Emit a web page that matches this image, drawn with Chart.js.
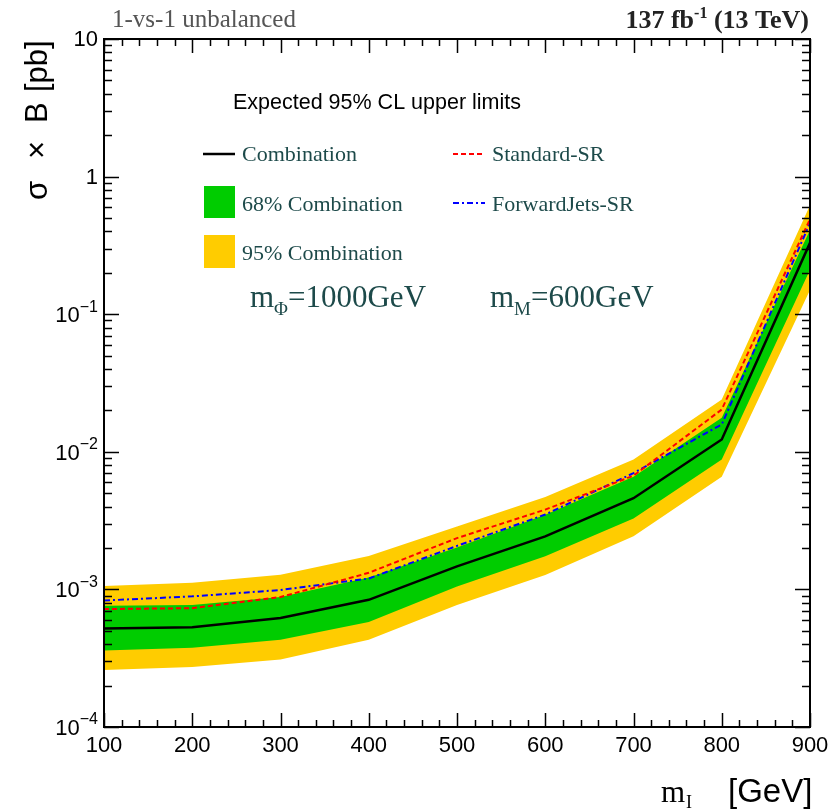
<!DOCTYPE html>
<html>
<head>
<meta charset="utf-8">
<script src="https://cdn.jsdelivr.net/npm/chart.js@4.4.0/dist/chart.umd.min.js"></script>
<style>
  html, body { margin: 0; padding: 0; background: #fff; }
  canvas { display: block; }
</style>
</head>
<body>
<canvas id="limits" width="829" height="810"></canvas>
<script>
// mass points (GeV)
const massPoints = [100, 200, 300, 400, 500, 600, 700, 800, 900];

// expected limits, sigma x B [pb]
const combination = [5.2e-4, 5.3e-4, 6.2e-4, 8.4e-4, 1.47e-3, 2.43e-3, 4.6e-3, 1.23e-2, 0.33];
const band68Up = [7.6e-4, 7.7e-4, 8.8e-4, 1.22e-3, 2.02e-3, 3.49e-3, 6.6e-3, 1.77e-2, 0.41];
const band68Down = [3.6e-4, 3.76e-4, 4.3e-4, 5.8e-4, 1.05e-3, 1.74e-3, 3.27e-3, 8.8e-3, 0.21];
const band95Up = [1.06e-3, 1.12e-3, 1.28e-3, 1.75e-3, 2.87e-3, 4.7e-3, 8.8e-3, 2.4e-2, 0.62];
const band95Down = [2.6e-4, 2.73e-4, 3.1e-4, 4.3e-4, 7.7e-4, 1.27e-3, 2.43e-3, 6.6e-3, 0.15];
const standardSR = [7.2e-4, 7.3e-4, 8.8e-4, 1.32e-3, 2.36e-3, 3.8e-3, 6.7e-3, 2.03e-2, 0.49];
const forwardJetsSR = [8.3e-4, 8.9e-4, 9.9e-4, 1.2e-3, 2.07e-3, 3.5e-3, 7.0e-3, 1.58e-2, 0.46];

// axis ticks
const xTickLabels = [100, 200, 300, 400, 500, 600, 700, 800, 900];
const yDecades = [-4, -3, -2, -1, 0, 1];

const GREEN = "#00cc00";
const YELLOW = "#ffcc00";
const TEXT_TEAL = "#1d4a4a";
const SANS = "'Liberation Sans', Arial, Helvetica, sans-serif";
const SERIF = "'Liberation Serif', 'Times New Roman', serif";

const pts = (vals) => massPoints.map((m, i) => ({ x: m, y: vals[i] }));

// draws frame, inward ticks, labels, legend and captions (ROOT style)
const rootStyle = {
  id: "rootStyle",
  afterDraw(chart) {
    const { ctx, chartArea: a, scales } = chart;
    const x = scales.x, y = scales.y;
    ctx.save();
    ctx.strokeStyle = "#000";
    ctx.lineWidth = 2;
    ctx.strokeRect(a.left, a.top, a.right - a.left, a.bottom - a.top);

    // x ticks, top and bottom
    ctx.lineWidth = 1.5;
    ctx.beginPath();
    for (let v = 100; v <= 900; v += 20) {
      const px = Math.round(x.getPixelForValue(v)) + 0.5;
      const len = v % 100 === 0 ? 14 : 7;
      ctx.moveTo(px, a.bottom); ctx.lineTo(px, a.bottom - len);
      ctx.moveTo(px, a.top); ctx.lineTo(px, a.top + len);
    }
    // y ticks, left and right
    yDecades.forEach(e => {
      for (let m = 1; m <= 9; m++) {
        const v = m * Math.pow(10, e);
        if (v > 10.0001) break;
        const py = Math.round(y.getPixelForValue(v)) + 0.5;
        const len = m === 1 ? 15 : 8;
        ctx.moveTo(a.left, py); ctx.lineTo(a.left + len, py);
        ctx.moveTo(a.right, py); ctx.lineTo(a.right - len, py);
      }
    });
    ctx.stroke();

    // x tick labels
    ctx.fillStyle = "#000";
    ctx.font = "22px " + SANS;
    ctx.textAlign = "center";
    ctx.textBaseline = "middle";
    xTickLabels.forEach(v => ctx.fillText(String(v), x.getPixelForValue(v), a.bottom + 19));

    // y tick labels with superscript exponents
    const labelRight = a.left - 6;
    yDecades.forEach(e => {
      const py = y.getPixelForValue(Math.pow(10, e));
      ctx.textAlign = "right";
      ctx.textBaseline = "middle";
      if (e === 0 || e === 1) {
        ctx.font = "22px " + SANS;
        ctx.fillText(e === 0 ? "1" : "10", labelRight, py + 1);
      } else {
        const sup = "\u2212" + (-e);
        ctx.font = "16px " + SANS;
        const sw = ctx.measureText(sup).width;
        ctx.fillText(sup, labelRight, py - 7);
        ctx.font = "22px " + SANS;
        ctx.fillText("10", labelRight - sw, py + 2);
      }
    });

    // axis titles
    ctx.textBaseline = "alphabetic";
    ctx.textAlign = "left";
    ctx.font = "33px " + SANS;
    ctx.fillText("[GeV]", 728, 802);
    ctx.font = "31px " + SERIF;
    ctx.fillText("m", 661, 802);
    ctx.font = "18px " + SERIF;
    ctx.fillText("I", 686, 808);

    ctx.save();
    ctx.translate(47, 0);
    ctx.rotate(-Math.PI / 2);
    ctx.font = "31px " + SANS;
    ctx.fillText("σ", -200, 0);
    ctx.fillText("×", -159, 0);
    ctx.fillText("B", -123, 0);
    ctx.fillText("[pb]", -92, 0);
    ctx.restore();

    // top captions
    ctx.font = "25px " + SERIF;
    ctx.fillStyle = "#555";
    ctx.fillText("1-vs-1 unbalanced", 112, 27);
    ctx.fillStyle = "#222";
    ctx.textAlign = "right";
    ctx.font = "bold 26px " + SERIF;
    const tail = " (13 TeV)";
    const tailW = ctx.measureText(tail).width;
    ctx.fillText(tail, a.right - 1, 28);
    ctx.font = "bold 16px " + SERIF;
    const supW = ctx.measureText("-1").width;
    ctx.fillText("-1", a.right - 1 - tailW, 18);
    ctx.font = "bold 26px " + SERIF;
    ctx.fillText("137 fb", a.right - 1 - tailW - supW, 28);

    // legend
    ctx.textAlign = "left";
    ctx.fillStyle = "#000";
    ctx.font = "21.5px " + SANS;
    ctx.fillText("Expected 95% CL upper limits", 233, 109);

    ctx.lineWidth = 2.5;
    ctx.strokeStyle = "#000";
    ctx.beginPath(); ctx.moveTo(203, 154); ctx.lineTo(235, 154); ctx.stroke();
    ctx.fillStyle = GREEN; ctx.fillRect(204, 186, 31, 32);
    ctx.fillStyle = YELLOW; ctx.fillRect(204, 235, 31, 33);

    ctx.lineWidth = 2;
    ctx.strokeStyle = "#ff0000";
    ctx.setLineDash([5, 3]);
    ctx.beginPath(); ctx.moveTo(453, 154); ctx.lineTo(485, 154); ctx.stroke();
    ctx.strokeStyle = "#0000ff";
    ctx.setLineDash([6, 3, 2, 3]);
    ctx.beginPath(); ctx.moveTo(453, 203); ctx.lineTo(485, 203); ctx.stroke();
    ctx.setLineDash([]);

    ctx.fillStyle = TEXT_TEAL;
    ctx.font = "22px " + SERIF;
    ctx.fillText("Combination", 242, 161);
    ctx.fillText("68% Combination", 242, 211);
    ctx.fillText("95% Combination", 242, 260);
    ctx.fillText("Standard-SR", 492, 161);
    ctx.fillText("ForwardJets-SR", 492, 211);

    // mass hypotheses
    const massLabel = (x0, sub, rest) => {
      ctx.font = "31px " + SERIF;
      ctx.fillText("m", x0, 307);
      let cx = x0 + ctx.measureText("m").width;
      ctx.font = "19px " + SERIF;
      ctx.fillText(sub, cx, 315);
      cx += ctx.measureText(sub).width;
      ctx.font = "31px " + SERIF;
      ctx.fillText(rest, cx, 307);
    };
    massLabel(250, "Φ", "=1000GeV");
    massLabel(490, "M", "=600GeV");
    ctx.restore();
  }
};

new Chart(document.getElementById("limits"), {
  type: "line",
  data: {
    datasets: [
      { data: pts(band95Up), fill: "+1", backgroundColor: YELLOW, borderWidth: 0, pointRadius: 0, order: 3 },
      { data: pts(band95Down), fill: false, borderWidth: 0, pointRadius: 0, order: 3 },
      { data: pts(band68Up), fill: "+1", backgroundColor: GREEN, borderWidth: 0, pointRadius: 0, order: 2 },
      { data: pts(band68Down), fill: false, borderWidth: 0, pointRadius: 0, order: 2 },
      { data: pts(combination), borderColor: "#000", borderWidth: 2.5, pointRadius: 0, fill: false, order: 1 },
      { data: pts(standardSR), borderColor: "#ff0000", borderWidth: 2, borderDash: [5, 3], pointRadius: 0, fill: false, order: 0 },
      { data: pts(forwardJetsSR), borderColor: "#0000ff", borderWidth: 2, borderDash: [6, 3, 2, 3], pointRadius: 0, fill: false, order: 0 }
    ]
  },
  options: {
    responsive: false,
    animation: false,
    layout: { padding: { left: 104, right: 19, top: 39, bottom: 83 } },
    elements: { line: { tension: 0 } },
    scales: {
      x: { type: "linear", min: 100, max: 900, display: false },
      y: { type: "logarithmic", min: 1e-4, max: 10, display: false }
    },
    plugins: {
      legend: { display: false },
      tooltip: { enabled: false }
    }
  },
  plugins: [rootStyle]
});
</script>
</body>
</html>
